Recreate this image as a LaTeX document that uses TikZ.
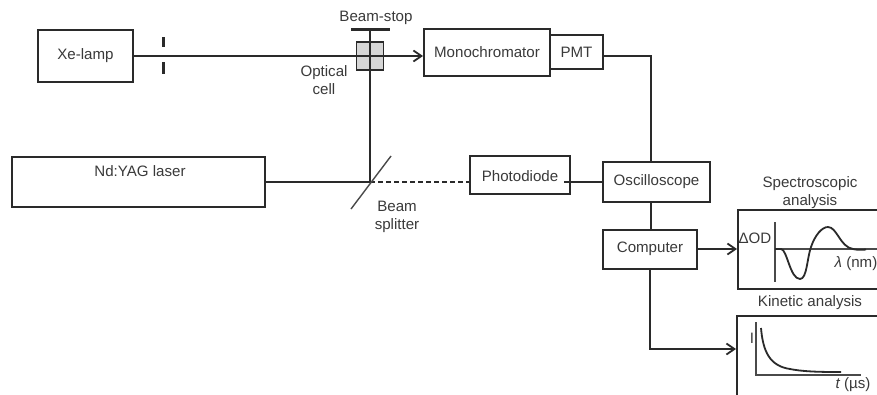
\documentclass[tikz,border=0pt]{standalone}
\usepackage{fontspec}
\setmainfont{Liberation Sans}
\usetikzlibrary{arrows.meta}
\definecolor{ink}{HTML}{2A2A2A}
\definecolor{txt}{HTML}{3A3A3A}
\definecolor{cellfill}{HTML}{D6D6D6}
\tikzset{
  box/.style={draw=ink,line width=2pt,fill=white,inner sep=0pt,text=txt,font=\fontsize{15.1}{17}\selectfont},
  lab/.style={inner sep=0pt,text=txt,align=center,font=\fontsize{15.1}{18}\selectfont},
  conn/.style={draw=ink,line width=1.7pt},
  arr/.style={conn,-{Straight Barb[length=8pt,width=11pt,line width=1.8pt]}},
  thin line/.style={draw=ink!85,line width=1.4pt},
  curve/.style={draw=ink,line width=1.8pt}
}
\begin{document}
\begin{tikzpicture}[x=1pt,y=-1pt]
\useasboundingbox (0,0) rectangle (877,394);
\clip (0,0) rectangle (877,394);
\fill[white] (0,0) rectangle (877,394);
% boxes
\node[box,minimum width=95pt,minimum height=52pt] (xe) at (85.5,56) {Xe-lamp};
\node[box,minimum width=253pt,minimum height=50pt] (yag) at (138.5,182) {};
\node[lab] at (140,171) {Nd:YAG laser};
\node[box,minimum width=126pt,minimum height=47pt] (mono) at (487,52.5) {Monochromator};
\node[box,minimum width=53pt,minimum height=34pt] (pmt) at (576.5,52) {PMT};
\node[box,minimum width=100pt,minimum height=38pt] (pd) at (520,175) {};
\node[lab] at (520,176) {Photodiode};
\node[box,minimum width=107pt,minimum height=40pt] (osc) at (656.5,182) {Oscilloscope};
\node[box,minimum width=94pt,minimum height=39pt] (comp) at (650,249) {Computer};
\node[box,anchor=north west,minimum width=160pt,minimum height=79pt] (spec) at (737,209) {};
\node[box,anchor=north west,minimum width=160pt,minimum height=100pt] (kin) at (736,315) {};
% optical cell
\node[draw=ink,line width=1.8pt,fill=cellfill,minimum width=27pt,minimum height=28pt,inner sep=0pt] (cell) at (370,56) {};
% named points
\coordinate (stop) at (370,29);
\coordinate (stopL) at (351,29);
\coordinate (stopR) at (390,29);
\coordinate (split) at (370,182);
\coordinate (splitA) at (351,209);
\coordinate (splitB) at (391,156);
\coordinate (slitA) at (163,37);
\coordinate (slitB) at (163,47);
\coordinate (slitC) at (163,62);
\coordinate (slitD) at (163,74);
\coordinate (bus) at (651,56);
\coordinate (kinbend) at (650,349);
% connectors
\draw[arr] (xe.east) -- (xe.east -| mono.west);
\draw[conn] (stop) -- (split);
\draw[conn] (yag.east |- split) -- (split);
\draw[conn,dashed,dash pattern=on 5pt off 3pt] (split) -- (split -| pd.west);
\draw[conn] (564,182) -- (osc.west);
\draw[conn] (pmt.east |- bus) -- (bus) -- (bus |- osc.north);
\draw[conn] (osc.south -| bus) -- (comp.north -| bus);
\draw[arr] (comp.east) -- (comp.east -| spec.west);
\draw[arr] (comp.south -| kinbend) -- (kinbend) -- (kinbend -| kin.west);
\draw[draw=ink,line width=3pt] (stopL) -- (stopR);
\draw[thin line] (splitA) -- (splitB);
\draw[draw=ink,line width=3pt] (slitA) -- (slitB);
\draw[draw=ink,line width=3pt] (slitC) -- (slitD);
% labels
\node[lab] (lstop) at (376,18) {Beam-stop};
\node[lab] (lcell) at (324,80) {Optical\\cell};
\node[lab] (lsplit) at (397,216.5) {Beam\\splitter};
\node[lab] (lspec) at (810,193) {Spectroscopic\\analysis};
\node[lab] (lkin) at (810,303) {Kinetic analysis};
% spectro plot
\coordinate (s0) at (775,249);
\draw[thin line] (775,222) -- (775,282);
\draw[thin line] (s0) -- (877,249);
\draw[curve] (s0) -- (781,249) .. controls (787,249) and (790,279) .. (800,279)
  .. controls (807,279) and (807,258) .. (811,247)
  .. controls (815,235) and (822,227) .. (828,227)
  .. controls (837,227) and (840,247) .. (853,249)
  .. controls (857,250) and (861,250) .. (866,249.5);
\node[lab] at (755,238) {ΔOD};
\node[lab] at (856,264) {\itshape λ\upshape{} (nm)};
% kinetic plot
\draw[thin line] (756,322) -- (756,375) -- (861,375);
\draw[curve] (761,328) .. controls (763,352) and (770,366) .. (790,369)
  .. controls (805,372) and (825,372) .. (841,372);
\node[lab] at (752,338) {I};
\node[lab] at (853,385) {\itshape t\upshape{} (µs)};
\end{tikzpicture}
\end{document}
